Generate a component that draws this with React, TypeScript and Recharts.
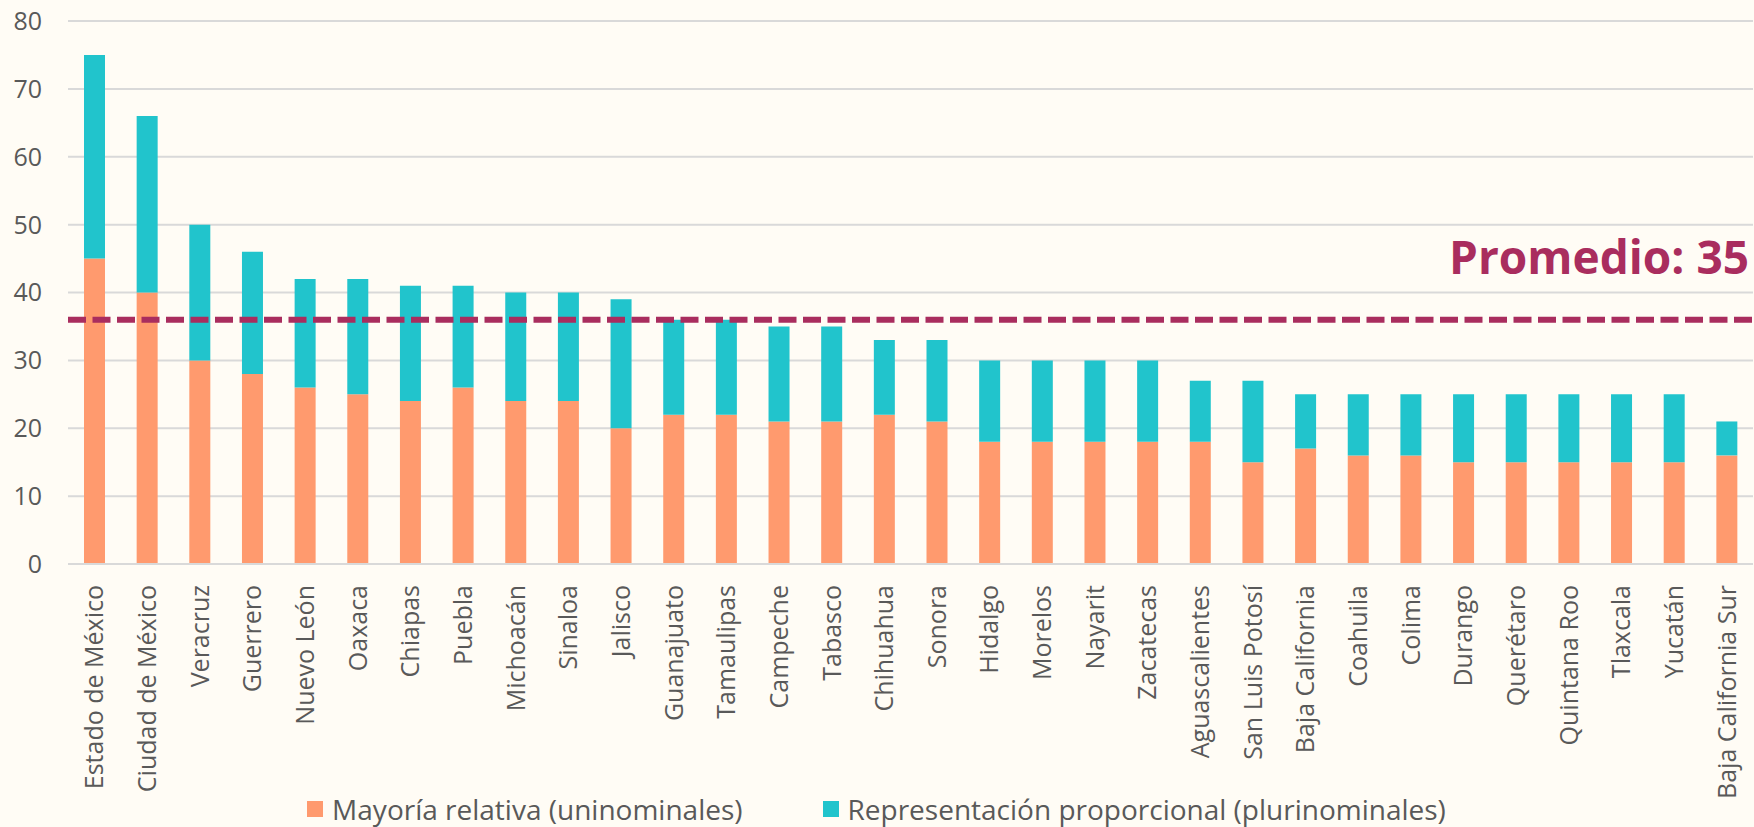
import { Bar, BarChart, CartesianGrid, Legend, ReferenceLine, XAxis, YAxis } from "recharts";

const states = [
  "Estado de México", "Ciudad de México", "Veracruz", "Guerrero", "Nuevo León",
  "Oaxaca", "Chiapas", "Puebla", "Michoacán", "Sinaloa", "Jalisco", "Guanajuato",
  "Tamaulipas", "Campeche", "Tabasco", "Chihuahua", "Sonora", "Hidalgo", "Morelos",
  "Nayarit", "Zacatecas", "Aguascalientes", "San Luis Potosí", "Baja California",
  "Coahuila", "Colima", "Durango", "Querétaro", "Quintana Roo", "Tlaxcala", "Yucatán",
  "Baja California Sur",
];

// diputados de mayoría relativa (uninominales)
const mayoria = [45, 40, 30, 28, 26, 25, 24, 26, 24, 24, 20, 22, 22, 21, 21, 22, 21, 18, 18, 18, 18, 18, 15, 17, 16, 16, 15, 15, 15, 15, 15, 16];
// diputados de representación proporcional (plurinominales)
const representacion = [30, 26, 20, 18, 16, 17, 17, 15, 16, 16, 19, 14, 14, 14, 14, 11, 12, 12, 12, 12, 12, 9, 12, 8, 9, 9, 10, 10, 10, 10, 10, 5];

const yTicks = [0, 10, 20, 30, 40, 50, 60, 70, 80];
const promedioLine = 36;
const promedioLabel = "Promedio: 35";

const seriesNames = ["Mayoría relativa (uninominales)", "Representación proporcional (plurinominales)"];

const BG = "#FFFCF5";
const ORANGE = "#FF9A6E";
const TEAL = "#21C4CC";
const MAGENTA = "#A92D5E";
const TEXT = "#595959";
const GRID = "#D9D9D9";
const FONT = "'Open Sans', sans-serif";

const rows = states.map((name, i) => ({
  name,
  mayoria: mayoria[i],
  representacion: representacion[i],
}));

function StateTick(props: any) {
  const { x, y, payload } = props;
  return (
    <text
      transform={`translate(${x},${y + 21}) rotate(-90)`}
      textAnchor="end"
      dy="0.36em"
      fill={TEXT}
      fontSize={25}
      fontFamily={FONT}
    >
      {payload.value}
    </text>
  );
}

function LegendContent(props: any) {
  const items = props.payload ?? [];
  return (
    <div
      style={{
        display: "flex",
        justifyContent: "center",
        gap: 80,
        fontFamily: FONT,
        fontSize: 28,
        color: TEXT,
        lineHeight: "36px",
      }}
    >
      {items.map((it: any) => (
        <div key={it.value} style={{ display: "flex", alignItems: "center" }}>
          <span style={{ width: 16, height: 16, background: it.color, marginRight: 9, display: "inline-block" }} />
          <span>{it.value}</span>
        </div>
      ))}
    </div>
  );
}

export default function App() {
  return (
    <div style={{ width: 1754, height: 827, background: BG }}>
      <style>{"body{margin:0}"}</style>
      <BarChart
        width={1754}
        height={827}
        data={rows}
        margin={{ top: 21, right: 1, bottom: 0, left: 0 }}
        barSize={21}
      >
        <CartesianGrid vertical={false} stroke={GRID} strokeWidth={2} />
        <XAxis
          dataKey="name"
          interval={0}
          height={227}
          tickLine={false}
          tickSize={0}
          tickMargin={0}
          axisLine={{ stroke: GRID, strokeWidth: 2 }}
          tick={<StateTick />}
        />
        <YAxis
          width={68}
          domain={[0, 80]}
          ticks={yTicks}
          axisLine={false}
          tickLine={false}
          tickSize={0}
          tickMargin={26}
          tick={{ fill: TEXT, fontSize: 25, fontFamily: FONT }}
        />
        <Legend verticalAlign="bottom" height={36} content={<LegendContent />} />
        <Bar dataKey="mayoria" name={seriesNames[0]} stackId="d" fill={ORANGE} isAnimationActive={false} />
        <Bar dataKey="representacion" name={seriesNames[1]} stackId="d" fill={TEAL} isAnimationActive={false} />
        <ReferenceLine
          y={promedioLine}
          stroke={MAGENTA}
          strokeWidth={6}
          strokeDasharray="18 6.5"
          label={(p: any) => {
            const vb = p.viewBox;
            return (
              <text
                x={vb.x + vb.width - 4}
                y={vb.y - 46}
                textAnchor="end"
                fill={MAGENTA}
                fontSize={46}
                fontWeight={700}
                fontFamily={FONT}
              >
                {promedioLabel}
              </text>
            );
          }}
        />
      </BarChart>
    </div>
  );
}
